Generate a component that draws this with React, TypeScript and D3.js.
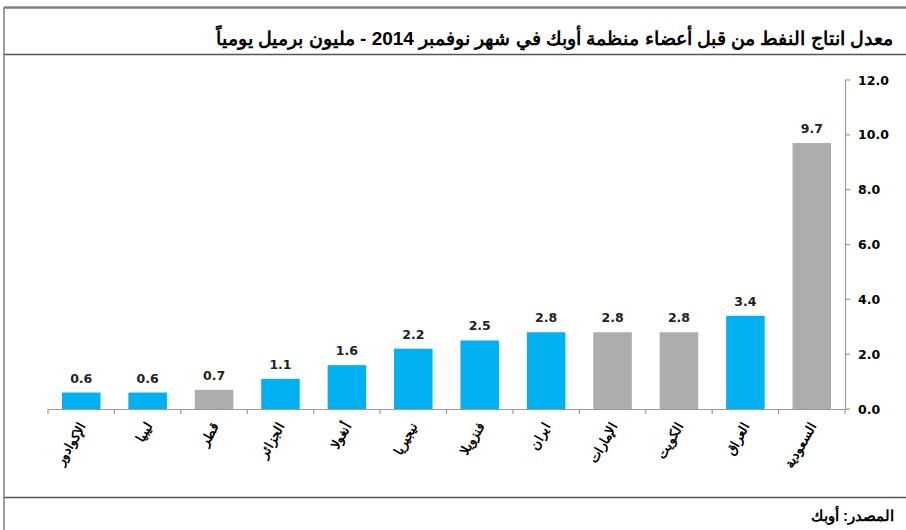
import React from "react";
import * as d3 from "d3";

const categories = ["الإكوادور", "ليبيا", "قطر", "الجزائر", "أنغولا", "نيجيريا", "فنزويلا", "ايران", "الإمارات", "الكويت", "العراق", "السعودية"];
const values = [0.6, 0.6, 0.7, 1.1, 1.6, 2.2, 2.5, 2.8, 2.8, 2.8, 3.4, 9.7];
const gulf = [false, false, true, false, false, false, false, false, true, true, false, true];
const yTicks = [0, 2, 4, 6, 8, 10, 12];
const title = "معدل انتاج النفط من قبل أعضاء منظمة أوبك في شهر نوفمبر 2014 - مليون برميل يومياً";
const source = "المصدر: أوبك";

const W = 906;
const H = 530;
const BLUE = "#00B0F0";
const GRAY = "#ADADAD";

export default function App() {
  const x = d3.scaleBand<string>().domain(categories).range([48, 845]).paddingInner(0.42).paddingOuter(0.21);
  const y = d3.scaleLinear().domain([0, 12]).range([409, 80]);
  const step = x.step();
  const numFont = "'DejaVu Sans', Verdana, sans-serif";
  const arFont = "'Liberation Sans', Arial, sans-serif";
  return (
    <svg width={W} height={H} style={{ position: "absolute", left: 0, top: 0, background: "#fff" }}>
      <rect x={0} y={0} width={W} height={H} fill="#fff" />
      {/* frame lines */}
      <line x1={4} x2={W} y1={7.5} y2={7.5} stroke="#7f7f7f" strokeWidth={2.5} />
      <line x1={4} x2={4} y1={7} y2={H} stroke="#7f7f7f" strokeWidth={1.5} />
      <line x1={4} x2={W} y1={54.5} y2={54.5} stroke="#555" strokeWidth={1.5} />
      <line x1={4} x2={W} y1={497.5} y2={497.5} stroke="#555" strokeWidth={1.5} />
      <text x={893} y={45} textAnchor="start" direction="rtl" fontFamily={arFont} fontWeight="bold" fontSize={19} fill="#000">
        {title}
      </text>
      <text x={894} y={521} textAnchor="start" direction="rtl" fontFamily={arFont} fontWeight="bold" fontSize={15} fill="#000">
        {source}
      </text>
      {/* bars */}
      {categories.map((c, i) => (
        <rect key={c} x={x(c)} y={y(values[i])} width={x.bandwidth()} height={y(0) - y(values[i])} fill={gulf[i] ? GRAY : BLUE} />
      ))}
      {/* value labels */}
      {categories.map((c, i) => (
        <text key={"v" + c} x={(x(c) as number) + x.bandwidth() / 2} y={y(values[i]) - 10} textAnchor="middle" fontFamily={numFont} fontWeight="bold" fontSize={12.5} fill="#222">
          {values[i].toFixed(1)}
        </text>
      ))}
      {/* x axis */}
      <line x1={48} x2={845} y1={y(0) + 0.5} y2={y(0) + 0.5} stroke="#9a9a9a" strokeWidth={1.2} />
      {d3.range(categories.length + 1).map((i) => {
        const tx = 48 + i * step;
        return <line key={"xt" + i} x1={tx} x2={tx} y1={y(0)} y2={y(0) + 5} stroke="#9a9a9a" strokeWidth={1.2} />;
      })}
      {categories.map((c) => {
        const cx = (x(c) as number) + x.bandwidth() / 2 + 5;
        const cy = 426;
        return (
          <text key={"xl" + c} x={cx} y={cy} transform={`rotate(-60 ${cx} ${cy})`} textAnchor="end" fontFamily={arFont} fontWeight="bold" fontSize={13} fill="#000">
            {c}
          </text>
        );
      })}
      {/* y axis */}
      <line x1={845.5} x2={845.5} y1={y(12)} y2={y(0) + 1} stroke="#9a9a9a" strokeWidth={1.2} />
      {yTicks.map((t) => (
        <g key={"yt" + t}>
          <line x1={845} x2={850} y1={y(t)} y2={y(t)} stroke="#9a9a9a" strokeWidth={1.2} />
          <text x={858} y={y(t) + 4.5} fontFamily={numFont} fontWeight="bold" fontSize={12.5} fill="#000">
            {t.toFixed(1)}
          </text>
        </g>
      ))}
    </svg>
  );
}
